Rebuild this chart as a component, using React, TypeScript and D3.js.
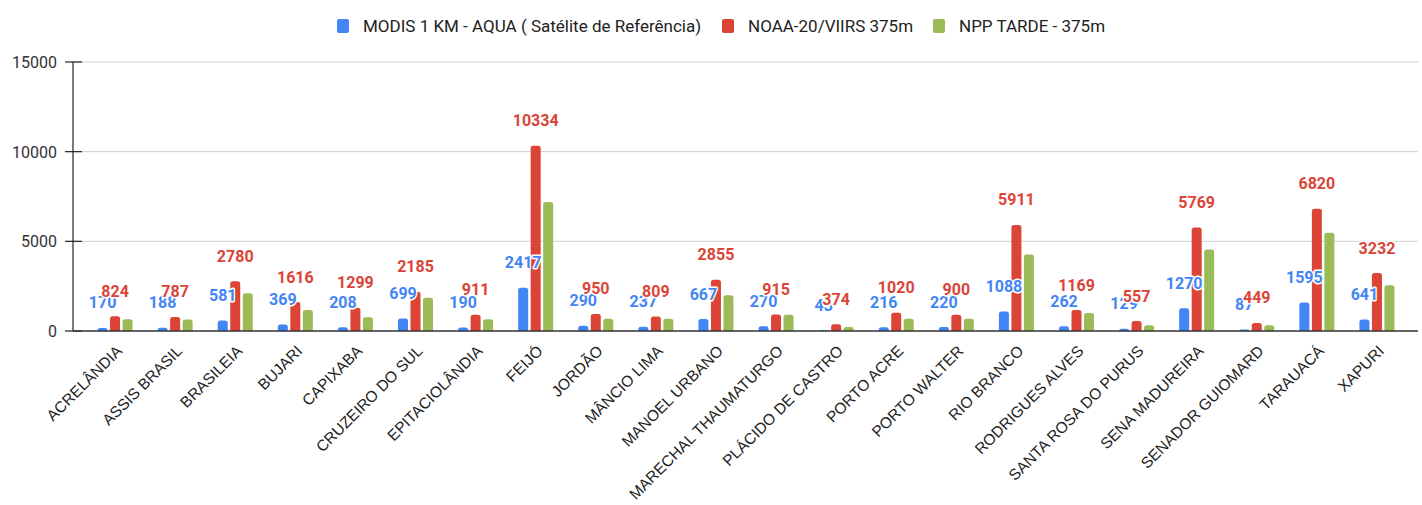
import React, { useEffect, useRef } from 'react';
import * as d3 from 'd3';

const municipios = [
  'ACRELÂNDIA', 'ASSIS BRASIL', 'BRASILEIA', 'BUJARI', 'CAPIXABA', 'CRUZEIRO DO SUL',
  'EPITACIOLÂNDIA', 'FEIJÓ', 'JORDÃO', 'MÂNCIO LIMA', 'MANOEL URBANO', 'MARECHAL THAUMATURGO',
  'PLÁCIDO DE CASTRO', 'PORTO ACRE', 'PORTO WALTER', 'RIO BRANCO', 'RODRIGUES ALVES',
  'SANTA ROSA DO PURUS', 'SENA MADUREIRA', 'SENADOR GUIOMARD', 'TARAUACÁ', 'XAPURI'
];

const modis = [170, 188, 581, 369, 208, 699, 190, 2417, 290, 237, 667, 270, 43, 216, 220, 1088, 262, 129, 1270, 87, 1595, 641];
const noaa = [824, 787, 2780, 1616, 1299, 2185, 911, 10334, 950, 809, 2855, 915, 374, 1020, 900, 5911, 1169, 557, 5769, 449, 6820, 3232];
const npp = [650, 640, 2100, 1170, 760, 1860, 650, 7190, 690, 690, 1990, 910, 220, 690, 690, 4260, 1000, 320, 4550, 320, 5480, 2550];

const yTicks = [0, 5000, 10000, 15000];

const series = [
  { name: 'MODIS 1 KM - AQUA ( Satélite de Referência)', values: modis, color: '#4285f4', labels: true },
  { name: 'NOAA-20/VIIRS 375m', values: noaa, color: '#db4437', labels: true },
  { name: 'NPP TARDE - 375m', values: npp, color: '#9bbb59', labels: false },
];

const FONT = 'Roboto, "Noto Sans", sans-serif';

// bar with rounded top corners
const barPath = (x, y, w, h, r) => {
  const rr = Math.min(r, h, w / 2);
  return `M${x},${y + h}V${y + rr}Q${x},${y} ${x + rr},${y}H${x + w - rr}Q${x + w},${y} ${x + w},${y + rr}V${y + h}Z`;
};

const App = () => {
  const svgRef = useRef(null);

  useEffect(() => {
    const svg = d3.select(svgRef.current);
    svg.selectAll('*').remove();

    const width = 1422;
    const height = 505;
    const left = 73, right = 1418, top = 62, bottom = 331;

    svg.attr('width', width).attr('height', height);

    const x0 = d3.scaleBand().domain(municipios).range([85, 1407]).padding(0);
    const x1 = d3.scaleBand().domain(series.map(s => s.name)).range([-17.5, 17.5]).paddingInner(0.2);
    const y = d3.scaleLinear().domain([0, 15000]).range([bottom, top]);

    // gridlines
    svg.append('g')
      .selectAll('line')
      .data(yTicks.filter(t => t > 0))
      .enter().append('line')
      .attr('x1', left).attr('x2', right)
      .attr('y1', d => y(d)).attr('y2', d => y(d))
      .attr('stroke', '#d0d0d0').attr('stroke-width', 1);

    // y axis
    const yAxis = svg.append('g');
    yAxis.append('line')
      .attr('x1', left).attr('x2', left).attr('y1', top).attr('y2', bottom)
      .attr('stroke', '#222').attr('stroke-width', 1.2);
    yAxis.selectAll('.tick')
      .data(yTicks)
      .enter().append('line')
      .attr('x1', 65).attr('x2', 82)
      .attr('y1', d => y(d)).attr('y2', d => y(d))
      .attr('stroke', '#222').attr('stroke-width', 1.2);
    yAxis.selectAll('text')
      .data(yTicks)
      .enter().append('text')
      .attr('x', 57).attr('y', d => y(d) + 6)
      .attr('text-anchor', 'end')
      .attr('font-family', FONT).attr('font-size', 16).attr('fill', '#333')
      .text(d => d);

    // bars
    series.forEach(s => {
      svg.append('g')
        .selectAll('path')
        .data(s.values)
        .enter().append('path')
        .attr('d', (v, i) => {
          const bx = x0(municipios[i]) + x0.bandwidth() / 2 + x1(s.name);
          return barPath(bx, y(v), x1.bandwidth(), bottom - y(v), 2.5);
        })
        .attr('fill', s.color);
    });

    // x baseline
    svg.append('line')
      .attr('x1', left).attr('x2', right).attr('y1', bottom).attr('y2', bottom)
      .attr('stroke', '#333').attr('stroke-width', 1.3);

    // value labels (they overlap in the original too)
    series.filter(s => s.labels).forEach(s => {
      svg.append('g')
        .selectAll('text')
        .data(s.values)
        .enter().append('text')
        .attr('x', (v, i) => x0(municipios[i]) + x0.bandwidth() / 2 + x1(s.name) + x1.bandwidth() / 2)
        .attr('y', v => y(v) - 19.5)
        .attr('text-anchor', 'middle')
        .attr('font-family', FONT).attr('font-size', 16).attr('font-weight', 'bold')
        .attr('fill', s.color)
        .attr('stroke', '#fff').attr('stroke-width', 3).attr('paint-order', 'stroke')
        .attr('stroke-linejoin', 'round')
        .text(v => v);
    });

    // category labels
    svg.append('g')
      .selectAll('text')
      .data(municipios)
      .enter().append('text')
      .attr('transform', d => `translate(${x0(d) + x0.bandwidth() / 2 + 8},352) rotate(-45)`)
      .attr('text-anchor', 'end')
      .attr('font-family', '"Liberation Sans", Arial, sans-serif').attr('font-size', 15.5)
      .attr('fill', '#222')
      .text(d => d);

    // legend
    const legendX = [337, 722, 933];
    const legend = svg.append('g');
    series.forEach((s, i) => {
      legend.append('rect')
        .attr('x', legendX[i]).attr('y', 19).attr('width', 12).attr('height', 14).attr('rx', 2)
        .attr('fill', s.color);
      legend.append('text')
        .attr('x', legendX[i] + 26).attr('y', 32)
        .attr('font-family', FONT).attr('font-size', 17).attr('fill', '#222')
        .text(s.name);
    });
  }, []);

  return <svg ref={svgRef} style={{ position: 'absolute', left: 0, top: 0 }}></svg>;
};

export default App;
